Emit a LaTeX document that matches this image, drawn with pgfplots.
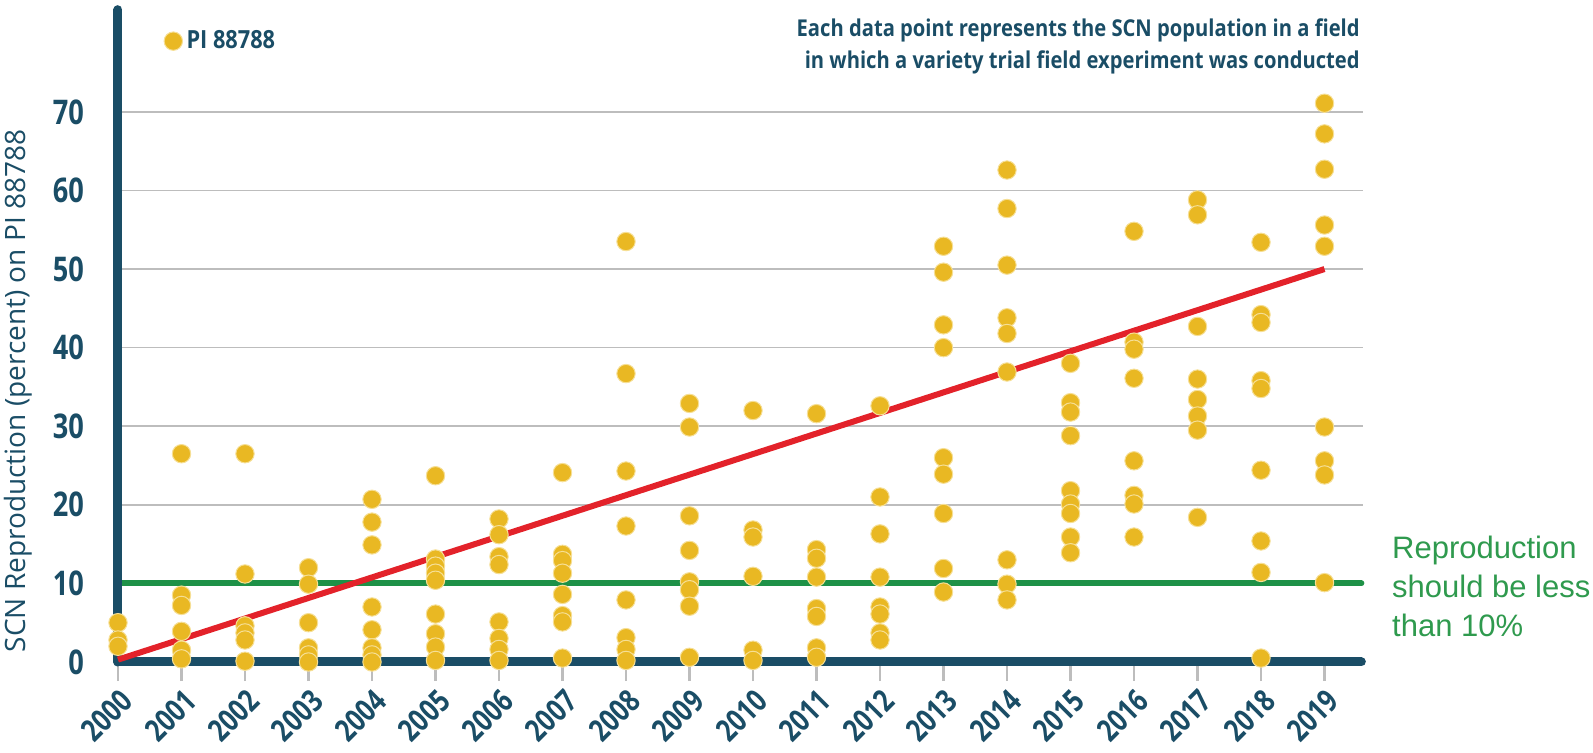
\documentclass[border=0pt]{standalone}
\usepackage{fontspec}
\setmainfont{Open Sans}
\newfontfamily\cond[FakeStretch=0.87]{Open Sans}
\newfontfamily\condt[FakeStretch=0.8]{Open Sans}
\newfontfamily\arialf{Liberation Sans}
\usepackage{pgfplots}
\usepackage{pgfplotstable}
\pgfplotsset{compat=1.18}
\definecolor{tealc}{HTML}{1A4D66}
\definecolor{yellowc}{HTML}{E9B823}
\definecolor{creamc}{HTML}{F6DF95}
\definecolor{redl}{HTML}{E3222A}
\definecolor{greenl}{HTML}{1E9147}
\definecolor{greent}{HTML}{2F9A4E}
\definecolor{gridc}{HTML}{BDBDBD}

\pgfplotstableread{
x y
2000 5.0
2000 2.8
2000 2.0
2001 26.5
2001 8.5
2001 7.2
2001 3.9
2001 1.5
2001 0.4
2002 26.5
2002 11.2
2002 4.6
2002 3.7
2002 2.8
2002 0.1
2003 12.0
2003 9.9
2003 5.0
2003 1.8
2003 0.9
2003 0.0
2004 20.7
2004 17.8
2004 14.9
2004 7.0
2004 4.1
2004 1.8
2004 0.9
2004 0.0
2005 23.7
2005 13.1
2005 12.2
2005 11.3
2005 10.4
2005 6.1
2005 3.6
2005 1.9
2005 0.2
2006 18.2
2006 16.2
2006 13.4
2006 12.4
2006 5.1
2006 3.0
2006 1.6
2006 0.2
2007 24.1
2007 13.7
2007 12.9
2007 11.3
2007 8.6
2007 5.9
2007 5.1
2007 0.5
2008 53.5
2008 36.7
2008 24.3
2008 17.3
2008 7.9
2008 3.1
2008 1.6
2008 0.2
2009 32.9
2009 29.9
2009 18.6
2009 14.2
2009 10.2
2009 9.2
2009 7.1
2009 0.6
2010 32.0
2010 16.8
2010 15.9
2010 10.9
2010 1.5
2010 0.2
2011 31.6
2011 14.3
2011 13.2
2011 10.8
2011 6.8
2011 5.8
2011 1.8
2011 0.6
2012 32.6
2012 21.0
2012 16.3
2012 10.8
2012 7.0
2012 6.1
2012 3.7
2012 2.8
2013 52.9
2013 49.6
2013 42.9
2013 40.0
2013 26.0
2013 23.9
2013 18.9
2013 11.9
2013 8.9
2014 62.6
2014 57.7
2014 50.5
2014 43.8
2014 41.8
2014 36.9
2014 13.0
2014 9.9
2014 7.9
2015 38.0
2015 33.0
2015 31.8
2015 28.8
2015 21.8
2015 20.1
2015 18.9
2015 15.9
2015 13.9
2016 54.8
2016 40.7
2016 39.8
2016 36.1
2016 25.6
2016 21.2
2016 20.1
2016 15.9
2017 58.8
2017 56.9
2017 42.7
2017 36.0
2017 33.4
2017 31.3
2017 29.5
2017 18.4
2018 53.4
2018 44.2
2018 43.2
2018 35.8
2018 34.8
2018 24.4
2018 15.4
2018 11.4
2018 0.5
2019 71.1
2019 67.2
2019 62.7
2019 55.6
2019 52.9
2019 29.9
2019 25.6
2019 23.8
2019 10.1
}\datatable

\begin{document}
\begin{tikzpicture}
\path[use as bounding box] (-59pt,-45.5pt) rectangle (737.5pt,331pt);
\begin{axis}[
  scale only axis, width=622.3pt, height=328.5pt,
  xmin=2000, xmax=2019.6, ymin=0, ymax=83.6,
  clip=false,
  axis line style={draw=none},
  xtick={2000,...,2019}, ytick={0,10,...,70},
  ymajorgrids, grid style={color=gridc, line width=0.8pt},
  tick align=outside, tick pos=left,
  major tick length=9.5pt,
  x tick style={color=gridc, line width=1.2pt},
  y tick style={draw=none},
  /pgf/number format/assume math mode=true,
  /pgf/number format/1000 sep={},
  yticklabel style={font=\condt\bfseries\fontsize{17}{20}\selectfont, text=tealc, anchor=east, xshift=-4pt},
  xticklabel style={font=\condt\bfseries\fontsize{15.5}{18}\selectfont, text=tealc, inner sep=0pt, xshift=4.5pt, yshift=-7pt, rotate=45, anchor=east},
  legend style={at={(axis cs:2000.72,79)}, anchor=west, draw=none, fill=none,
    font=\cond\bfseries\fontsize{12.5}{14}\selectfont, text=tealc, inner sep=0pt},
  legend image code/.code={\draw[#1] plot coordinates {(0.2cm,0cm)};},
]
\addplot[greenl, line width=3pt, line cap=round, forget plot] coordinates {(2000,10) (2019.58,10)};
\addplot[tealc, line width=4.5pt, line cap=round, forget plot] coordinates {(2000,0) (2019.58,0)};
\addplot[tealc, line width=4.5pt, line cap=round, forget plot] coordinates {(2000,0) (2000,83.0)};
\addplot[redl, line width=3pt, forget plot] coordinates {(2000,0.3) (2019,50)};
\addplot[only marks, mark=*, mark size=4.6pt, mark options={fill=yellowc, draw=creamc, line width=0.5pt}] table[x=x, y=y] {\datatable};
\addlegendentry{PI 88788}
\node[anchor=east, align=right, font=\cond\bfseries\fontsize{11.6}{15.8}\selectfont, text=tealc, inner sep=0pt] at (axis cs:2019.56,78.3) {Each data point represents the SCN population in a field\\in which a variety trial field experiment was conducted};
\node[anchor=north west, align=left, font=\arialf\fontsize{15.5}{19.5}\selectfont, text=greent, inner sep=0pt] at (axis cs:2020.06,16.05) {Reproduction\\should be less\\than 10\%};
\node[rotate=90, anchor=west, font=\fontsize{14}{17}\selectfont, text=tealc, inner sep=0pt] at (axis cs:1998.43,1.2) {SCN Reproduction (percent) on PI 88788};
\end{axis}
\end{tikzpicture}
\end{document}
